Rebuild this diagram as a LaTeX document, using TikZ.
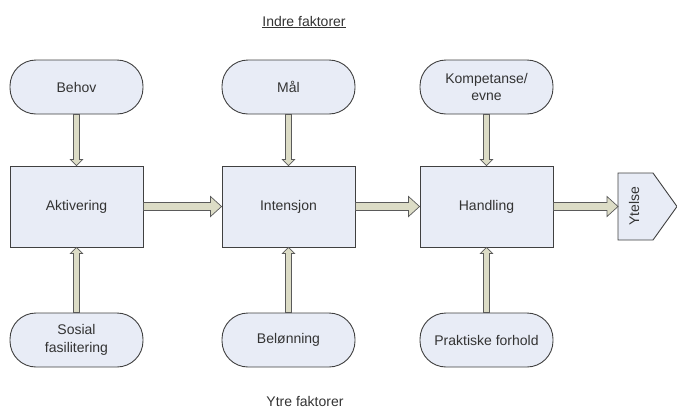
\documentclass[tikz,border=0pt]{standalone}
\usepackage{fontspec}
\setmainfont{Liberation Sans}
\usetikzlibrary{calc}
\definecolor{boxfill}{HTML}{E8ECF6}
\definecolor{boxline}{HTML}{404040}
\definecolor{arrfill}{HTML}{DCDCC6}
\definecolor{arrline}{HTML}{5A5A5A}
\definecolor{txt}{HTML}{333333}
\tikzset{
  base/.style={draw=boxline, fill=boxfill, line width=0.9pt, text=txt, font=\fontsize{14}{17.5}\selectfont, align=center, inner sep=0pt},
  pill/.style={base, minimum width=133pt, minimum height=54pt, rounded corners=26pt},
  stage/.style={base, minimum width=133pt, minimum height=81pt},
  fat/.style={draw=arrline, fill=arrfill, line width=0.7pt, line join=miter},
  lbl/.style={text=txt, font=\fontsize{14}{17.5}\selectfont, inner sep=0pt}
}
\newcommand{\harrow}[2]{%
  \path let \p1=(#1.east), \p2=(#2.west) in
    [fat] (\x1,\y1+4) -- (\x2-11,\y1+4) -- (\x2-11,\y1+10) -- (\x2,\y1)
      -- (\x2-11,\y1-10) -- (\x2-11,\y1-4) -- (\x1,\y1-4) -- cycle;}
\newcommand{\varrowdown}[2]{%
  \path let \p1=(#1.south), \p2=(#2.north) in
    [fat] (\x1-3,\y1) -- (\x1-3,\y2+6) -- (\x1-6,\y2+6) -- (\x1,\y2)
      -- (\x1+6,\y2+6) -- (\x1+3,\y2+6) -- (\x1+3,\y1) -- cycle;}
\newcommand{\varrowup}[2]{%
  \path let \p1=(#1.north), \p2=(#2.south) in
    [fat] (\x1-3,\y1) -- (\x1-3,\y2-6) -- (\x1-6,\y2-6) -- (\x1,\y2)
      -- (\x1+6,\y2-6) -- (\x1+3,\y2-6) -- (\x1+3,\y1) -- cycle;}
\begin{document}
\begin{tikzpicture}[x=1pt,y=-1pt]
\useasboundingbox (0,0) rectangle (677,410);
% top factors
\node[pill] (behov) at (76.5,87) {Behov};
\node[pill] (maal) at (288.5,87) {Mål};
\node[pill] (komp) at (486.5,87) {Kompetanse/\\evne};
% stages
\node[stage] (akt) at (76.5,206.5) {Aktivering};
\node[stage] (int) at (288.5,206.5) {Intensjon};
\node[stage] (han) at (486.5,206.5) {Handling};
% output
\path[base] (618,173) -- (653,173) -- (677,206.5) -- (653,240) -- (618,240) -- cycle;
\node[lbl, rotate=90] (ytelse) at (634,206.5) {Ytelse};
\coordinate (ytin) at (618,206.5);
% bottom factors
\node[pill] (sos) at (76.5,340) {Sosial\\fasilitering};
\node[pill] (bel) at (288.5,340) {Belønning};
\node[pill] (prak) at (486.5,340) {Praktiske forhold};
% labels
\node[lbl] (indre) at (304,22) {\underline{Indre faktorer}};
\node[lbl] (ytre) at (305,401) {Ytre faktorer};
% arrows
\harrow{akt}{int}
\harrow{int}{han}
\path let \p1=(han.east), \p2=(ytin) in
    [fat] (\x1,\y1+4) -- (\x2-11,\y1+4) -- (\x2-11,\y1+10) -- (\x2,\y1)
      -- (\x2-11,\y1-10) -- (\x2-11,\y1-4) -- (\x1,\y1-4) -- cycle;
\varrowdown{behov}{akt}
\varrowdown{maal}{int}
\varrowdown{komp}{han}
\varrowup{sos}{akt}
\varrowup{bel}{int}
\varrowup{prak}{han}
\end{tikzpicture}
\end{document}
